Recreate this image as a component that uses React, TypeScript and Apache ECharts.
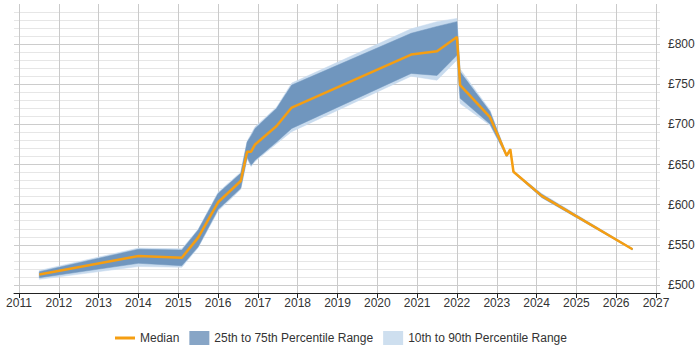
import React, { useEffect, useRef } from "react";
import * as echarts from "echarts";

const years = [2011.51, 2014.0, 2015.09, 2015.5, 2016.0, 2016.57, 2016.73, 2016.83, 2016.93, 2017.47, 2017.85, 2020.85, 2021.5, 2022.0, 2022.08, 2022.83, 2023.25, 2023.34, 2023.42, 2024.13, 2026.41];
const median = [513, 536, 534, 559, 603, 629.5, 666, 666, 675, 698, 721, 787, 791, 809, 749, 709, 661, 669, 641, 611, 544.5];
const p75 = [516.5, 544.5, 543.5, 568.5, 614, 639, 678, 686, 695, 720, 749, 813.5, 822, 828, 765.5, 716, 662, 669.5, 641.5, 613, 545];
const p25 = [509, 527, 524, 547.5, 594, 620.5, 659, 649, 655.5, 678, 695, 763.5, 761, 786, 732.5, 700.5, 660, 668, 640, 609, 544];
const p90 = [518, 546, 545, 569.5, 615.5, 640.5, 679, 688, 697, 721.5, 751.5, 819, 828, 832, 769, 718, 662.5, 670, 642, 614, 545.5];
const p10 = [507, 523, 522, 546.5, 592, 619, 657, 647.5, 654, 676, 691, 760, 755, 780, 726, 699, 659.5, 667.5, 639.5, 608.5, 543.5];

const yearTicks = [2011, 2027];
const yRange = [490, 840];
const yLabelStep = 50;

const FONT = "Liberation Sans, Arial, sans-serif";
const C_MED = "#F59E12";
const C_IQR = "#7096BE";
const C_IQR_LEG = "#87A5C6";
const C_DEC = "#C8DBEE";
const C_DEC_LEG = "#CEDFEF";

function bandSeries(name: string, lo: number[], hi: number[], fill: string, legendColor: string) {
  return {
    name,
    type: "custom",
    xAxisIndex: 0,
    yAxisIndex: 0,
    data: years.map((x, i) => [x, lo[i], hi[i]]),
    encode: { x: 0, y: [1, 2] },
    itemStyle: { color: legendColor },
    renderItem: (params: any, api: any) => {
      if (params.dataIndex !== 0) return null;
      const top = years.map((x, i) => api.coord([x, hi[i]]));
      const bottom = years.map((x, i) => api.coord([x, lo[i]])).reverse();
      return {
        type: "polygon",
        shape: { points: top.concat(bottom) },
        style: { fill, stroke: fill, lineWidth: 0.5 },
      };
    },
  };
}

export default function App() {
  const ref = useRef<HTMLDivElement>(null);
  useEffect(() => {
    if (!ref.current) return;
    const chart = echarts.init(ref.current, null, { renderer: "svg" });
    const pxPerYear = 39.8;
    chart.setOption({
      animation: false,
      textStyle: { fontFamily: FONT },
      grid: [
        { left: 14, right: 40, top: 12, bottom: 57 },
        { left: 19, right: 44, top: 4, bottom: 57 },
      ],
      xAxis: [
        {
          type: "value",
          gridIndex: 0,
          min: yearTicks[0] - 5 / pxPerYear,
          max: yearTicks[1] + 4 / pxPerYear,
          axisLine: { show: true, lineStyle: { color: "#222", width: 1 } },
          axisTick: { show: false },
          axisLabel: { show: false },
          splitLine: { show: false },
        },
        {
          type: "value",
          gridIndex: 1,
          min: yearTicks[0],
          max: yearTicks[1],
          interval: 1,
          axisLine: { show: false },
          axisTick: { show: true, length: 5, lineStyle: { color: "#222" } },
          axisLabel: {
            margin: 4,
            color: "#333",
            fontSize: 12,
            fontFamily: FONT,
            formatter: (v: number) => String(Math.round(v)),
          },
          splitLine: { show: true, lineStyle: { color: "#cacaca", width: 1 } },
        },
      ],
      yAxis: [
        {
          type: "value",
          gridIndex: 0,
          position: "right",
          min: yRange[0],
          max: yRange[1],
          interval: 10,
          axisLine: { show: false },
          axisTick: { show: false },
          axisLabel: {
            margin: 8,
            color: "#333",
            fontSize: 12,
            fontFamily: FONT,
            formatter: (v: number) => (Math.round(v) % yLabelStep === 0 ? "£" + Math.round(v) : ""),
          },
          splitLine: {
            show: true,
            lineStyle: { color: ["#e6e6e6", "#cccccc", "#e6e6e6", "#e6e6e6", "#e6e6e6"], width: 1 },
          },
        },
        { type: "value", gridIndex: 1, show: false, min: 0, max: 1 },
      ],
      legend: {
        left: 110,
        top: 326,
        itemWidth: 20,
        itemHeight: 14,
        itemGap: 10,
        textStyle: { color: "#333", fontSize: 12, fontFamily: FONT },
        data: [
          { name: "Median", icon: "path://M0,0 L20,0 L20,3 L0,3 Z", itemStyle: { color: C_MED } },
          { name: "25th to 75th Percentile Range", icon: "rect", itemStyle: { color: C_IQR_LEG } },
          { name: "10th to 90th Percentile Range", icon: "rect", itemStyle: { color: C_DEC_LEG } },
        ],
      },
      series: [
        bandSeries("10th to 90th Percentile Range", p10, p90, C_DEC, C_DEC_LEG),
        bandSeries("25th to 75th Percentile Range", p25, p75, C_IQR, C_IQR_LEG),
        {
          name: "Median",
          type: "line",
          data: years.map((x, i) => [x, median[i]]),
          showSymbol: false,
          symbol: "none",
          itemStyle: { color: C_MED },
          lineStyle: { color: C_MED, width: 2.5 },
          z: 5,
        },
      ],
    });
    return () => chart.dispose();
  }, []);
  return <div ref={ref} style={{ width: 700, height: 350, position: "absolute", left: 0, top: 0 }} />;
}
